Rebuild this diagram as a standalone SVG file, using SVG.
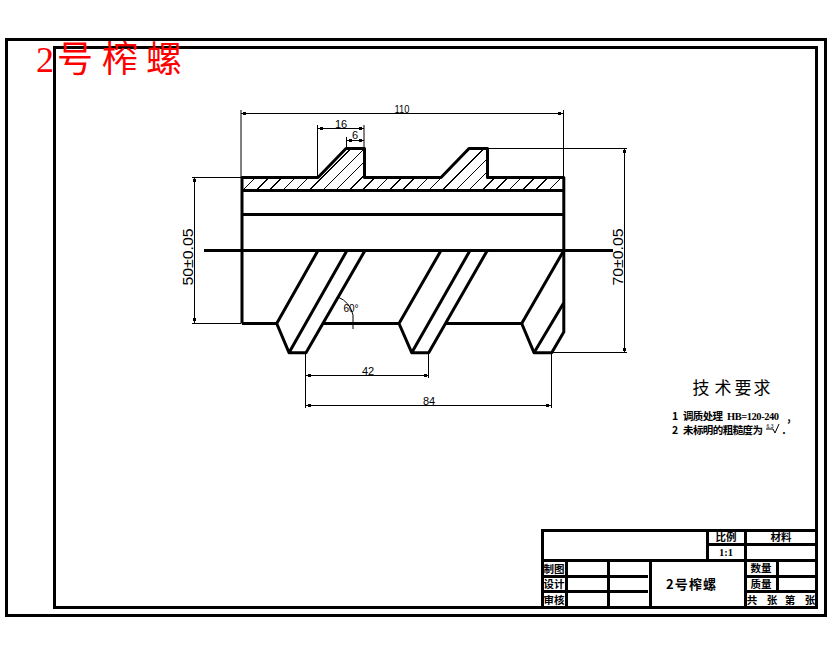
<svg xmlns="http://www.w3.org/2000/svg" width="830" height="654" viewBox="0 0 830 654">
<style>
.f{fill:none;stroke:#000;stroke-width:3;stroke-linejoin:round}
.t{fill:none;stroke:#000;stroke-width:1}
.h{fill:none;stroke:#000;stroke-width:1;shape-rendering:crispEdges}
.b{fill:none;stroke:#000;stroke-width:3;shape-rendering:crispEdges}
.d{font-family:"Liberation Sans",sans-serif;fill:#000;font-size:11px;text-anchor:middle}
.c{font-family:"Noto Sans CJK SC",sans-serif;fill:#000;font-weight:700;text-anchor:middle;font-size:10.5px}
.m{fill:#000}
</style>
<defs>
<clipPath id="hc"><polygon points="243,190 243,178 318,178 346,149 363,149 363,178 441,178 469,149 487,149 487,178 562,178 562,190"/></clipPath>
</defs>
<rect width="830" height="654" fill="#fff"/>
<g id="frame">
<rect class="b" x="6.500" y="39.500" width="819" height="576"/>
<rect class="b" x="54.500" y="47" width="762" height="560"/>
</g>
<g id="title-block">
<path class="b" d="M542.500 607V530H816M542.500 560.500H816M707.500 530V560.500M745.500 530V607M707.500 544H816M542.500 576.500H648M542.500 591H648M745.500 576.500H816M745.500 591H816M566 560.500V607M608 560.500V607M650 560.500V607M777 560.500V591"/>
<text class="c" x="726" y="541">比例</text>
<text class="c" x="781" y="541">材料</text>
<text class="c" x="726" y="556" style="font-family:'Liberation Serif',serif">1:1</text>
<text class="c" x="554" y="573">制图</text>
<text class="c" x="554" y="588">设计</text>
<text class="c" x="554" y="604">审核</text>
<text class="c" x="691" y="589" style="font-size:13px" textLength="50">2号榨螺</text>
<text class="c" x="761" y="572">数量</text>
<text class="c" x="761" y="588">质量</text>
<text class="c" x="752" y="604">共</text>
<text class="c" x="772" y="604">张</text>
<text class="c" x="790" y="604">第</text>
<text class="c" x="810" y="604">张</text>
</g>
<g id="part">
<g clip-path="url(#hc)">
<path class="h" d="M243 190l50-50M256.300 190l50-50M269.600 190l50-50M282.900 190l50-50M296.200 190l50-50M309.500 190l50-50M322.800 190l50-50M336.100 190l50-50M349.400 190l50-50M362.700 190l50-50M376 190l50-50M389.300 190l50-50M402.600 190l50-50M415.900 190l50-50M429.200 190l50-50M442.500 190l50-50M455.800 190l50-50M469.100 190l50-50M482.400 190l50-50M495.700 190l50-50M509 190l50-50M522.300 190l50-50M535.600 190l50-50M548.900 190l50-50"/>
</g>
<path class="f" d="M242 323.500V177.500H318L346 148.500H364.500V177.500H441L469 148.500H487.500V177.500H563.800V332L551.700 352.700H534L521.700 323.500H445"/>
<path class="f" d="M242 190.500H563.800M242 214.500H563.800M204 250.500H613M242 323.500H276.700L289 352.700H306L365 250.500M276.700 323.500L318 250.500M289 352.700L347 250.500M322.700 323.500H399L411.700 352.700H428.700L487.300 250.500M399 323.500L441 250.500M411.700 352.700L470 250.500M521.700 323.500L563.800 250.500M534 352.700L563.800 302.700"/>
</g>
<g id="dimensions">
<path class="t" d="M241 110V177M563.500 110V177M241 113.500H563.500M317.500 125V177M364 125V148M317.500 128.500H364M346.500 137V148M346.500 140.500H364M192 177.500H241M192 323.500H241M194.500 177.500V323.500M487 148.500H627M551.500 352.500H627M624.500 148.500V352.500M305.500 352V408M428.500 352V378M551.500 352V408M305.500 375.500H428.500M305.500 405.500H551.500M338 297Q350 302 353 315V329"/>
<g class="m"><rect x="243" y="112" width="3" height="3"/><rect x="558" y="112" width="3" height="3"/><rect x="320" y="127" width="3" height="3"/><rect x="359" y="127" width="3" height="3"/><rect x="349" y="139" width="3" height="3"/><rect x="359" y="139" width="3" height="3"/><rect x="193" y="179" width="3" height="3"/><rect x="193" y="318" width="3" height="3"/><rect x="623" y="150" width="3" height="3"/><rect x="623" y="348" width="3" height="3"/><rect x="308" y="374" width="3" height="3"/><rect x="424" y="374" width="3" height="3"/><rect x="308" y="404" width="3" height="3"/><rect x="546" y="404" width="3" height="3"/></g>
<text class="d" x="402" y="113" textLength="15" lengthAdjust="spacingAndGlyphs">110</text>
<text class="d" x="341" y="128">16</text>
<text class="d" x="355" y="139">6</text>
<text class="d" x="351" y="312" style="font-size:10px">60°</text>
<text class="d" x="368" y="375">42</text>
<text class="d" x="429" y="405">84</text>
<text class="d" style="font-size:15px" transform="translate(193 257) rotate(-90)" textLength="57" lengthAdjust="spacingAndGlyphs">50±0.05</text>
<text class="d" style="font-size:15px" transform="translate(623 257) rotate(-90)" textLength="57" lengthAdjust="spacingAndGlyphs">70±0.05</text>
</g>
<g id="notes">
<text class="c" style="font-size:17px;font-weight:400" x="701" y="394">技</text>
<text class="c" style="font-size:17px;font-weight:400" x="723" y="394">术</text>
<text class="c" style="font-size:17px;font-weight:400" x="743" y="394">要</text>
<text class="c" style="font-size:17px;font-weight:400" x="762" y="394">求</text>
<text class="c" x="675" y="420">1</text>
<text class="c" x="703" y="420" textLength="40">调质处理</text>
<text class="c" x="753" y="420" style="font-family:'Liberation Serif',serif" textLength="52">HB=120-240</text>
<text class="c" x="789" y="421">,</text>
<text class="c" x="675" y="434">2</text>
<text class="c" x="723" y="434" textLength="80">未标明的粗糙度为</text>
<text class="d" x="770" y="428" style="font-size:5px">6.3</text>
<path class="t" d="M766 429H773L775 433L779 424"/>
<text class="c" x="784" y="434">.</text>
</g>
<g id="heading">
<text x="36" y="72" font-family="'Liberation Serif','Noto Sans CJK SC',serif" font-size="36" fill="#f00">2</text>
<text y="72" font-family="'Noto Sans CJK SC',sans-serif" font-size="36" fill="#f00" x="57 102 146">号榨螺</text>
</g>
</svg>
